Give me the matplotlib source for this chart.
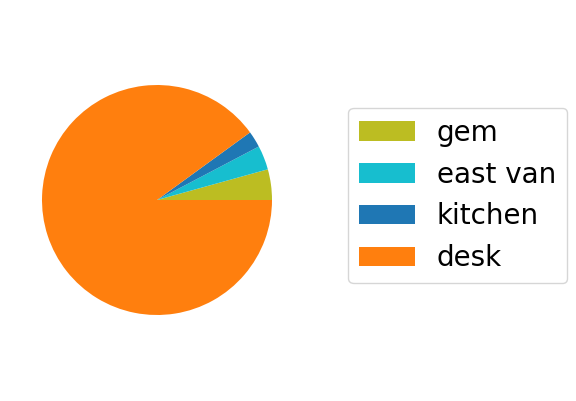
import matplotlib
matplotlib.use("Agg")
import matplotlib.pyplot as plt

labels = ["gem", "east van", "kitchen", "desk"]
values = [4.3, 3.4, 2.3, 90.0]
colors = ["#bcbd22", "#17becf", "#1f77b4", "#ff7f0e"]

fig = plt.figure(figsize=(5.76, 4.01), dpi=100)
ax = fig.add_axes([13.25 / 576, 57.25 / 401, 287.5 / 576, 287.5 / 401])
wedges, _ = ax.pie(values, colors=colors, startangle=0)
ax.set_aspect("equal")

fig.legend(wedges, labels, loc="center left", fontsize=20,
           bbox_to_anchor=(348 / 576, 1 - 195.5 / 401), borderaxespad=0)

fig.savefig("out.png", dpi=100)
